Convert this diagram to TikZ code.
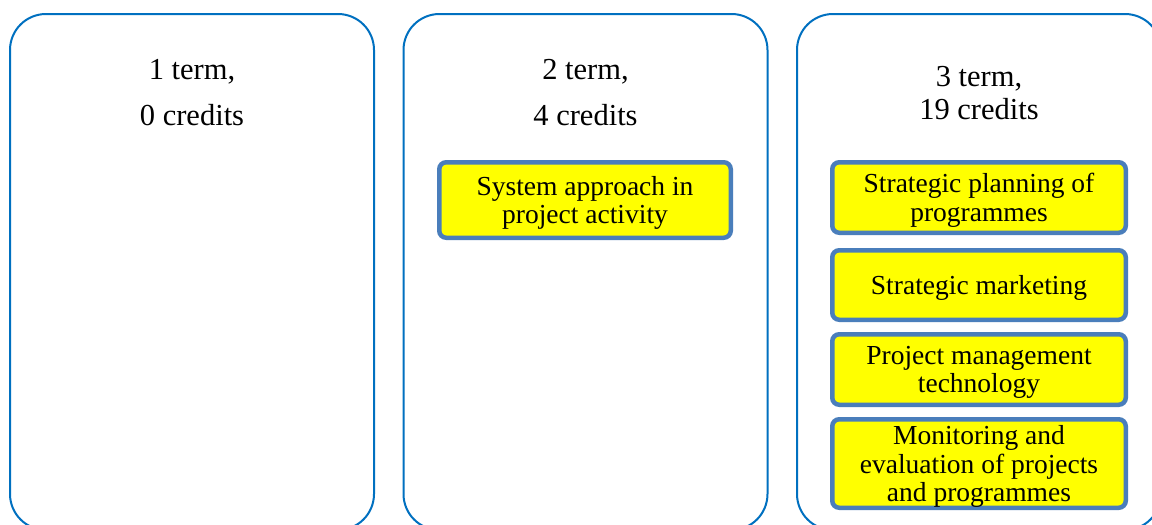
\documentclass[tikz,border=0pt]{standalone}
\usepackage{fontspec}
\setmainfont{Liberation Serif}
\definecolor{panelblue}{HTML}{0070C0}
\definecolor{boxblue}{HTML}{4A7EBB}
\definecolor{boxyellow}{HTML}{FFFF00}
\tikzset{
  panel/.style={draw=panelblue, line width=2pt, rounded corners=36pt, fill=white,
    minimum width=364pt, inner sep=0pt},
  hdr/.style={anchor=base, inner sep=0pt, font=\fontsize{30.5}{36}\selectfont},
  course/.style={draw=boxblue, fill=boxyellow, line width=4.5pt, rounded corners=7pt,
    inner sep=0pt},
  ctext/.style={align=center, inner sep=0pt, font=\fontsize{27.5}{28.5}\selectfont}
}
\begin{document}
\begin{tikzpicture}[x=1pt,y=-1pt]
\useasboundingbox (0,0) rectangle (1152,525);
\clip (0,0) rectangle (1152,525);
% panels
\node[panel, minimum height=516pt] (p1) at (192,272) {};
\node[panel, minimum height=516pt] (p2) at (585.5,272) {};
\node[panel, minimum height=516pt] (p3) at (979,272) {};
% headers
\node[hdr] (h1a) at (192,79) {1 term,};
\node[hdr] (h1b) at (192,125) {0 credits};
\node[hdr] (h2a) at (585.5,79) {2 term,};
\node[hdr] (h2b) at (585.5,125) {4 credits};
\node[hdr] (h3a) at (979,86) {3 term,};
\node[hdr] (h3b) at (979,119) {19 credits};
% courses
\node[course, minimum width=291.5pt, minimum height=75.5pt] (c21) at (585,200) {};
\node[ctext] (c21t) at ([yshift=-3pt]c21.center) {System approach in\\project activity};
\node[course, minimum width=293.5pt, minimum height=70.5pt] (c31) at (979,197.5) {};
\node[ctext] (c31t) at ([yshift=-3pt]c31.center) {Strategic planning of\\programmes};
\node[course, minimum width=293.5pt, minimum height=69.5pt] (c32) at (979,285) {};
\node[ctext] (c32t) at ([yshift=-3pt]c32.center) {Strategic marketing};
\node[course, minimum width=293.5pt, minimum height=70.5pt] (c33) at (979,369.5) {};
\node[ctext] (c33t) at ([yshift=-3pt]c33.center) {Project management\\technology};
\node[course, minimum width=293.5pt, minimum height=88.5pt] (c34) at (979,463.5) {};
\node[ctext] (c34t) at ([yshift=-3pt]c34.center) {Monitoring and\\evaluation of projects\\and programmes};
\end{tikzpicture}
\end{document}
